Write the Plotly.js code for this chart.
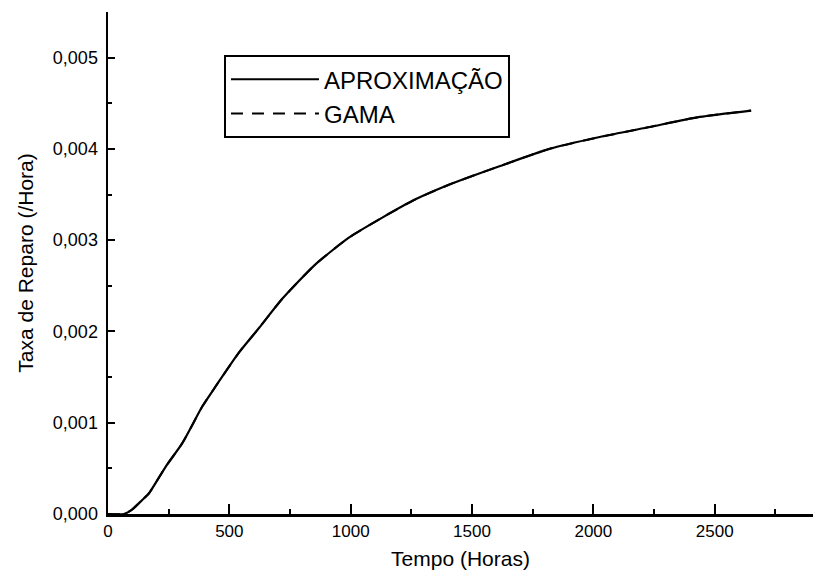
<!DOCTYPE html>
<html>
<head>
<meta charset="utf-8">
<script src="https://cdn.plot.ly/plotly-3.0.1.min.js"></script>
<style>html,body{margin:0;padding:0;background:#fff;}#chart{width:813px;height:583px;}</style>
</head>
<body>
<div id="chart"></div>
<script>
// Tempo (Horas)
const tempo = [0, 66, 100, 141, 169, 238, 307, 389, 444, 540, 623, 719, 857, 994, 1132, 1269, 1407, 1613, 1819, 2026, 2232, 2438, 2650];
// Taxa de Reparo — APROXIMAÇÃO
const aproximacao = [0, 0, 0.00005, 0.000154, 0.000227, 0.00052, 0.00078, 0.00118, 0.0014, 0.00177, 0.00204, 0.00236, 0.00274, 0.00303, 0.00325, 0.00345, 0.00361, 0.00381, 0.0040, 0.00413, 0.00424, 0.00435, 0.00442];
// Taxa de Reparo — GAMA (coincide visualmente com a aproximação)
const gama = [0, 0, 0.00005, 0.000154, 0.000227, 0.00052, 0.00078, 0.00118, 0.0014, 0.00177, 0.00204, 0.00236, 0.00274, 0.00303, 0.00325, 0.00345, 0.00361, 0.00381, 0.0040, 0.00413, 0.00424, 0.00435, 0.00442];
const seriesNames = ['APROXIMAÇÃO', 'GAMA'];
const xTickVals = [0, 500, 1000, 1500, 2000, 2500];
const yTickVals = [0, 0.001, 0.002, 0.003, 0.004, 0.005];

const font = 'Liberation Sans, Arial, sans-serif';
const data = [
  {x: tempo, y: gama, name: seriesNames[1], type: 'scatter', mode: 'lines',
   line: {color: '#000', width: 2, dash: '12px,9px', shape: 'spline', smoothing: 0.6}},
  {x: tempo, y: aproximacao, name: seriesNames[0], type: 'scatter', mode: 'lines',
   line: {color: '#000', width: 2.2, shape: 'spline', smoothing: 0.6}}
];
const layout = {
  width: 813, height: 583,
  margin: {l: 108, r: 0, t: 12, b: 69},
  paper_bgcolor: '#fff', plot_bgcolor: '#fff',
  separators: ',.',
  font: {family: font, color: '#000'},
  showlegend: true,
  legend: {x: 0.1645, y: 0.914, xanchor: 'left', yanchor: 'top',
    traceorder: 'reversed',
    bordercolor: '#000', borderwidth: 2, bgcolor: '#fff',
    font: {family: font, size: 24, color: '#000'},
    itemwidth: 88, entrywidth: 205, entrywidthmode: 'pixels', tracegroupgap: 0},
  xaxis: {
    range: [0, 2905], tickvals: xTickVals, ticktext: xTickVals.map(String),
    ticks: 'inside', ticklen: 10, tickwidth: 2, tickcolor: '#000',
    minor: {dtick: 250, tick0: 0, ticks: 'inside', ticklen: 5, tickwidth: 2, tickcolor: '#000'},
    showline: true, linecolor: '#000', linewidth: 2.5, showgrid: false, zeroline: false,
    tickfont: {family: font, size: 17, color: '#000'},
    title: {text: 'Tempo (Horas)', font: {family: font, size: 21, color: '#000'}, standoff: 12}
  },
  yaxis: {
    range: [0, 0.0055], tickvals: yTickVals, tickformat: '.3f',
    ticks: 'inside', ticklen: 7, tickwidth: 2, tickcolor: '#000',
    minor: {dtick: 0.0005, tick0: 0, ticks: 'inside', ticklen: 4, tickwidth: 2, tickcolor: '#000'},
    showline: true, linecolor: '#000', linewidth: 2.5, showgrid: false, zeroline: false,
    tickfont: {family: font, size: 18, color: '#000'},
    ticklabelstandoff: 4,
    title: {text: 'Taxa de Reparo (/Hora)', font: {family: font, size: 21, color: '#000'}, standoff: 14}
  }
};
Plotly.newPlot('chart', data, layout, {displayModeBar: false, staticPlot: true});
</script>
</body>
</html>
